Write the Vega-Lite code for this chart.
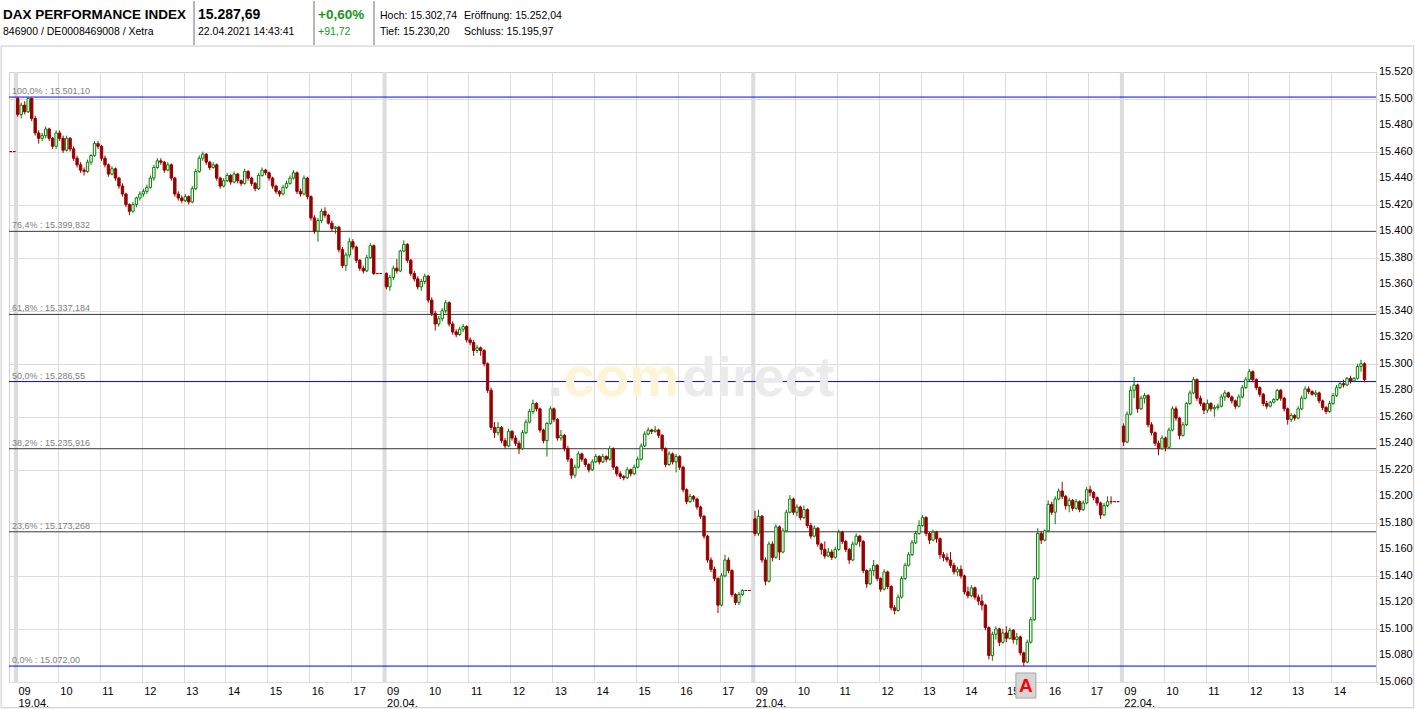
{
"$schema":"https://vega.github.io/schema/vega-lite/v6.json",
"background":"#ffffff",
"padding":{"left":0,"top":0,"right":0,"bottom":0},
"bounds":"flush",
"spacing":71,
"config":{"view":{"stroke":null},"font":"Liberation Sans"},
"datasets":{
"days":[{"m":0},{"m":528},{"m":1056},{"m":1584}],
"ticksy":[{"v":15060,"lab":"15.060"},{"v":15080,"lab":"15.080"},{"v":15100,"lab":"15.100"},{"v":15120,"lab":"15.120"},{"v":15140,"lab":"15.140"},{"v":15160,"lab":"15.160"},{"v":15180,"lab":"15.180"},{"v":15200,"lab":"15.200"},{"v":15220,"lab":"15.220"},{"v":15240,"lab":"15.240"},{"v":15260,"lab":"15.260"},{"v":15280,"lab":"15.280"},{"v":15300,"lab":"15.300"},{"v":15320,"lab":"15.320"},{"v":15340,"lab":"15.340"},{"v":15360,"lab":"15.360"},{"v":15380,"lab":"15.380"},{"v":15400,"lab":"15.400"},{"v":15420,"lab":"15.420"},{"v":15440,"lab":"15.440"},{"v":15460,"lab":"15.460"},{"v":15480,"lab":"15.480"},{"v":15500,"lab":"15.500"},{"v":15520,"lab":"15.520"}],
"fib":[
{"v":15501.1,"txt":"100,0% : 15.501,10","k":"b"},
{"v":15399.832,"txt":"76,4% : 15.399,832","k":"g"},
{"v":15337.184,"txt":"61,8% : 15.337,184","k":"g"},
{"v":15286.55,"txt":"50,0% : 15.286,55","k":"b"},
{"v":15235.916,"txt":"38,2% : 15.235,916","k":"g"},
{"v":15173.268,"txt":"23,6% : 15.173,268","k":"g"},
{"v":15072,"txt":"0,0% : 15.072,00","k":"b"}],
"dax":[
{"m":-10,"o":15460,"h":15460,"l":15460,"c":15460},
{"m":-5,"o":15460,"h":15460,"l":15460,"c":15460},
{"m":0,"o":15500,"h":15501,"l":15486,"c":15488},
{"m":5,"o":15488,"h":15497,"l":15485,"c":15495},
{"m":10,"o":15495,"h":15498,"l":15488,"c":15490},
{"m":15,"o":15490,"h":15501,"l":15489,"c":15500},
{"m":20,"o":15500,"h":15501,"l":15483,"c":15485},
{"m":25,"o":15485,"h":15487,"l":15472,"c":15474},
{"m":30,"o":15474,"h":15476,"l":15466,"c":15470},
{"m":35,"o":15470,"h":15474,"l":15468,"c":15472},
{"m":40,"o":15472,"h":15479,"l":15470,"c":15477},
{"m":45,"o":15477,"h":15478,"l":15468,"c":15470},
{"m":50,"o":15470,"h":15471,"l":15462,"c":15464},
{"m":55,"o":15464,"h":15476,"l":15462,"c":15474},
{"m":60,"o":15474,"h":15476,"l":15468,"c":15470},
{"m":65,"o":15470,"h":15472,"l":15459,"c":15461},
{"m":70,"o":15461,"h":15472,"l":15460,"c":15470},
{"m":75,"o":15470,"h":15471,"l":15460,"c":15462},
{"m":80,"o":15462,"h":15464,"l":15453,"c":15455},
{"m":85,"o":15455,"h":15457,"l":15448,"c":15450},
{"m":90,"o":15450,"h":15452,"l":15444,"c":15446},
{"m":95,"o":15446,"h":15448,"l":15442,"c":15445},
{"m":100,"o":15445,"h":15454,"l":15444,"c":15452},
{"m":105,"o":15452,"h":15458,"l":15450,"c":15457},
{"m":110,"o":15457,"h":15468,"l":15456,"c":15466},
{"m":115,"o":15466,"h":15468,"l":15462,"c":15464},
{"m":120,"o":15464,"h":15465,"l":15453,"c":15455},
{"m":125,"o":15455,"h":15457,"l":15448,"c":15450},
{"m":130,"o":15450,"h":15451,"l":15441,"c":15443},
{"m":135,"o":15443,"h":15449,"l":15442,"c":15447},
{"m":140,"o":15447,"h":15448,"l":15438,"c":15440},
{"m":145,"o":15440,"h":15441,"l":15432,"c":15434},
{"m":150,"o":15434,"h":15436,"l":15426,"c":15428},
{"m":155,"o":15428,"h":15429,"l":15418,"c":15420},
{"m":160,"o":15420,"h":15421,"l":15412,"c":15415},
{"m":165,"o":15415,"h":15422,"l":15414,"c":15420},
{"m":170,"o":15420,"h":15426,"l":15418,"c":15425},
{"m":175,"o":15425,"h":15430,"l":15423,"c":15428},
{"m":180,"o":15428,"h":15432,"l":15426,"c":15430},
{"m":185,"o":15430,"h":15435,"l":15428,"c":15433},
{"m":190,"o":15433,"h":15442,"l":15432,"c":15440},
{"m":195,"o":15440,"h":15450,"l":15438,"c":15448},
{"m":200,"o":15448,"h":15455,"l":15447,"c":15453},
{"m":205,"o":15453,"h":15455,"l":15450,"c":15452},
{"m":210,"o":15452,"h":15453,"l":15444,"c":15446},
{"m":215,"o":15446,"h":15452,"l":15445,"c":15450},
{"m":220,"o":15450,"h":15451,"l":15438,"c":15440},
{"m":225,"o":15440,"h":15441,"l":15426,"c":15428},
{"m":230,"o":15428,"h":15430,"l":15423,"c":15425},
{"m":235,"o":15425,"h":15427,"l":15421,"c":15423},
{"m":240,"o":15423,"h":15428,"l":15422,"c":15426},
{"m":245,"o":15426,"h":15427,"l":15420,"c":15422},
{"m":250,"o":15422,"h":15434,"l":15421,"c":15432},
{"m":255,"o":15432,"h":15447,"l":15431,"c":15445},
{"m":260,"o":15445,"h":15457,"l":15444,"c":15455},
{"m":265,"o":15455,"h":15460,"l":15453,"c":15458},
{"m":270,"o":15458,"h":15459,"l":15450,"c":15452},
{"m":275,"o":15452,"h":15453,"l":15446,"c":15448},
{"m":280,"o":15448,"h":15452,"l":15447,"c":15450},
{"m":285,"o":15450,"h":15451,"l":15438,"c":15440},
{"m":290,"o":15440,"h":15441,"l":15432,"c":15434},
{"m":295,"o":15434,"h":15440,"l":15433,"c":15438},
{"m":300,"o":15438,"h":15444,"l":15437,"c":15442},
{"m":305,"o":15442,"h":15443,"l":15435,"c":15437},
{"m":310,"o":15437,"h":15445,"l":15436,"c":15443},
{"m":315,"o":15443,"h":15444,"l":15436,"c":15438},
{"m":320,"o":15438,"h":15439,"l":15434,"c":15436},
{"m":325,"o":15436,"h":15447,"l":15435,"c":15445},
{"m":330,"o":15445,"h":15446,"l":15438,"c":15440},
{"m":335,"o":15440,"h":15441,"l":15434,"c":15436},
{"m":340,"o":15436,"h":15437,"l":15430,"c":15432},
{"m":345,"o":15432,"h":15444,"l":15431,"c":15442},
{"m":350,"o":15442,"h":15448,"l":15441,"c":15446},
{"m":355,"o":15446,"h":15447,"l":15442,"c":15444},
{"m":360,"o":15444,"h":15445,"l":15438,"c":15440},
{"m":365,"o":15440,"h":15441,"l":15432,"c":15434},
{"m":370,"o":15434,"h":15435,"l":15428,"c":15430},
{"m":375,"o":15430,"h":15431,"l":15426,"c":15428},
{"m":380,"o":15428,"h":15435,"l":15427,"c":15433},
{"m":385,"o":15433,"h":15438,"l":15432,"c":15436},
{"m":390,"o":15436,"h":15442,"l":15435,"c":15440},
{"m":395,"o":15440,"h":15446,"l":15439,"c":15444},
{"m":400,"o":15444,"h":15445,"l":15428,"c":15430},
{"m":405,"o":15430,"h":15432,"l":15426,"c":15428},
{"m":410,"o":15428,"h":15442,"l":15427,"c":15440},
{"m":415,"o":15440,"h":15441,"l":15424,"c":15426},
{"m":420,"o":15426,"h":15427,"l":15408,"c":15410},
{"m":425,"o":15410,"h":15412,"l":15398,"c":15400},
{"m":430,"o":15400,"h":15410,"l":15392,"c":15408},
{"m":435,"o":15408,"h":15417,"l":15406,"c":15415},
{"m":440,"o":15415,"h":15418,"l":15410,"c":15412},
{"m":445,"o":15412,"h":15413,"l":15405,"c":15406},
{"m":450,"o":15406,"h":15408,"l":15400,"c":15402},
{"m":455,"o":15402,"h":15404,"l":15398,"c":15403},
{"m":460,"o":15403,"h":15404,"l":15384,"c":15386},
{"m":465,"o":15386,"h":15388,"l":15372,"c":15374},
{"m":470,"o":15374,"h":15384,"l":15370,"c":15382},
{"m":475,"o":15382,"h":15395,"l":15380,"c":15392},
{"m":480,"o":15392,"h":15394,"l":15386,"c":15388},
{"m":485,"o":15388,"h":15389,"l":15376,"c":15378},
{"m":490,"o":15378,"h":15379,"l":15370,"c":15372},
{"m":495,"o":15372,"h":15374,"l":15368,"c":15370},
{"m":500,"o":15370,"h":15382,"l":15369,"c":15380},
{"m":505,"o":15380,"h":15391,"l":15379,"c":15389},
{"m":510,"o":15389,"h":15390,"l":15367,"c":15368},
{"m":515,"o":15368,"h":15368,"l":15368,"c":15368},
{"m":520,"o":15368,"h":15368,"l":15368,"c":15368},
{"m":528,"o":15368,"h":15369,"l":15356,"c":15358},
{"m":533,"o":15358,"h":15367,"l":15355,"c":15365},
{"m":538,"o":15365,"h":15374,"l":15363,"c":15372},
{"m":543,"o":15372,"h":15379,"l":15368,"c":15370},
{"m":548,"o":15370,"h":15386,"l":15369,"c":15385},
{"m":553,"o":15385,"h":15393,"l":15384,"c":15390},
{"m":558,"o":15390,"h":15391,"l":15376,"c":15378},
{"m":563,"o":15378,"h":15379,"l":15366,"c":15368},
{"m":568,"o":15368,"h":15370,"l":15362,"c":15364},
{"m":573,"o":15364,"h":15366,"l":15356,"c":15358},
{"m":578,"o":15358,"h":15364,"l":15355,"c":15362},
{"m":583,"o":15362,"h":15368,"l":15360,"c":15366},
{"m":588,"o":15366,"h":15367,"l":15346,"c":15348},
{"m":593,"o":15348,"h":15350,"l":15336,"c":15338},
{"m":598,"o":15338,"h":15340,"l":15325,"c":15330},
{"m":603,"o":15330,"h":15336,"l":15328,"c":15334},
{"m":608,"o":15334,"h":15342,"l":15332,"c":15340},
{"m":613,"o":15340,"h":15348,"l":15338,"c":15346},
{"m":618,"o":15346,"h":15347,"l":15328,"c":15330},
{"m":623,"o":15330,"h":15332,"l":15322,"c":15324},
{"m":628,"o":15324,"h":15326,"l":15320,"c":15322},
{"m":633,"o":15322,"h":15328,"l":15321,"c":15326},
{"m":638,"o":15326,"h":15330,"l":15324,"c":15328},
{"m":643,"o":15328,"h":15329,"l":15316,"c":15318},
{"m":648,"o":15318,"h":15320,"l":15314,"c":15316},
{"m":653,"o":15316,"h":15318,"l":15306,"c":15310},
{"m":658,"o":15310,"h":15314,"l":15308,"c":15312},
{"m":663,"o":15312,"h":15313,"l":15306,"c":15310},
{"m":668,"o":15310,"h":15311,"l":15298,"c":15300},
{"m":673,"o":15300,"h":15301,"l":15278,"c":15280},
{"m":678,"o":15280,"h":15282,"l":15250,"c":15252},
{"m":683,"o":15252,"h":15256,"l":15244,"c":15248},
{"m":688,"o":15248,"h":15256,"l":15246,"c":15252},
{"m":693,"o":15252,"h":15253,"l":15240,"c":15242},
{"m":698,"o":15242,"h":15244,"l":15236,"c":15238},
{"m":703,"o":15238,"h":15251,"l":15237,"c":15249},
{"m":708,"o":15249,"h":15250,"l":15242,"c":15244},
{"m":713,"o":15244,"h":15246,"l":15238,"c":15240},
{"m":718,"o":15240,"h":15242,"l":15232,"c":15236},
{"m":723,"o":15236,"h":15250,"l":15235,"c":15248},
{"m":728,"o":15248,"h":15258,"l":15247,"c":15256},
{"m":733,"o":15256,"h":15266,"l":15255,"c":15264},
{"m":738,"o":15264,"h":15273,"l":15262,"c":15270},
{"m":743,"o":15270,"h":15271,"l":15264,"c":15266},
{"m":748,"o":15266,"h":15267,"l":15248,"c":15250},
{"m":753,"o":15250,"h":15251,"l":15240,"c":15242},
{"m":758,"o":15242,"h":15256,"l":15230,"c":15255},
{"m":763,"o":15255,"h":15268,"l":15254,"c":15266},
{"m":768,"o":15266,"h":15267,"l":15256,"c":15258},
{"m":773,"o":15258,"h":15259,"l":15242,"c":15244},
{"m":778,"o":15244,"h":15250,"l":15242,"c":15246},
{"m":783,"o":15246,"h":15247,"l":15234,"c":15236},
{"m":788,"o":15236,"h":15238,"l":15226,"c":15228},
{"m":793,"o":15228,"h":15229,"l":15213,"c":15216},
{"m":798,"o":15216,"h":15224,"l":15214,"c":15222},
{"m":803,"o":15222,"h":15234,"l":15221,"c":15232},
{"m":808,"o":15232,"h":15233,"l":15226,"c":15228},
{"m":813,"o":15228,"h":15229,"l":15222,"c":15224},
{"m":818,"o":15224,"h":15225,"l":15218,"c":15220},
{"m":823,"o":15220,"h":15228,"l":15219,"c":15226},
{"m":828,"o":15226,"h":15232,"l":15225,"c":15230},
{"m":833,"o":15230,"h":15231,"l":15224,"c":15226},
{"m":838,"o":15226,"h":15232,"l":15225,"c":15230},
{"m":843,"o":15230,"h":15231,"l":15226,"c":15228},
{"m":848,"o":15228,"h":15238,"l":15227,"c":15236},
{"m":853,"o":15236,"h":15237,"l":15220,"c":15222},
{"m":858,"o":15222,"h":15223,"l":15215,"c":15217},
{"m":863,"o":15217,"h":15219,"l":15213,"c":15215},
{"m":868,"o":15215,"h":15216,"l":15212,"c":15214},
{"m":873,"o":15214,"h":15222,"l":15213,"c":15220},
{"m":878,"o":15220,"h":15221,"l":15215,"c":15217},
{"m":883,"o":15217,"h":15224,"l":15216,"c":15222},
{"m":888,"o":15222,"h":15230,"l":15221,"c":15228},
{"m":893,"o":15228,"h":15240,"l":15227,"c":15238},
{"m":898,"o":15238,"h":15249,"l":15237,"c":15247},
{"m":903,"o":15247,"h":15252,"l":15246,"c":15250},
{"m":908,"o":15250,"h":15251,"l":15247,"c":15249},
{"m":913,"o":15249,"h":15253,"l":15248,"c":15250},
{"m":918,"o":15250,"h":15251,"l":15244,"c":15246},
{"m":923,"o":15246,"h":15247,"l":15234,"c":15236},
{"m":928,"o":15236,"h":15237,"l":15222,"c":15224},
{"m":933,"o":15224,"h":15234,"l":15223,"c":15232},
{"m":938,"o":15232,"h":15233,"l":15224,"c":15226},
{"m":943,"o":15226,"h":15232,"l":15218,"c":15230},
{"m":948,"o":15230,"h":15231,"l":15220,"c":15222},
{"m":953,"o":15222,"h":15223,"l":15203,"c":15205},
{"m":958,"o":15205,"h":15206,"l":15194,"c":15196},
{"m":963,"o":15196,"h":15202,"l":15195,"c":15200},
{"m":968,"o":15200,"h":15201,"l":15196,"c":15198},
{"m":973,"o":15198,"h":15199,"l":15190,"c":15192},
{"m":978,"o":15192,"h":15193,"l":15183,"c":15185},
{"m":983,"o":15185,"h":15186,"l":15168,"c":15170},
{"m":988,"o":15170,"h":15171,"l":15150,"c":15152},
{"m":993,"o":15152,"h":15154,"l":15143,"c":15145},
{"m":998,"o":15145,"h":15147,"l":15136,"c":15138},
{"m":1003,"o":15138,"h":15139,"l":15112,"c":15118},
{"m":1008,"o":15118,"h":15142,"l":15117,"c":15140},
{"m":1013,"o":15140,"h":15156,"l":15139,"c":15152},
{"m":1018,"o":15152,"h":15154,"l":15142,"c":15144},
{"m":1023,"o":15144,"h":15145,"l":15124,"c":15126},
{"m":1028,"o":15126,"h":15127,"l":15118,"c":15120},
{"m":1033,"o":15120,"h":15128,"l":15118,"c":15126},
{"m":1038,"o":15126,"h":15130,"l":15125,"c":15129},
{"m":1043,"o":15129,"h":15129,"l":15129,"c":15129},
{"m":1048,"o":15129,"h":15129,"l":15129,"c":15129},
{"m":1056,"o":15183,"h":15189,"l":15170,"c":15172},
{"m":1061,"o":15172,"h":15190,"l":15170,"c":15185},
{"m":1066,"o":15185,"h":15186,"l":15150,"c":15152},
{"m":1071,"o":15152,"h":15154,"l":15133,"c":15136},
{"m":1076,"o":15136,"h":15166,"l":15135,"c":15164},
{"m":1081,"o":15164,"h":15166,"l":15151,"c":15154},
{"m":1086,"o":15154,"h":15179,"l":15153,"c":15177},
{"m":1091,"o":15177,"h":15178,"l":15152,"c":15158},
{"m":1096,"o":15158,"h":15176,"l":15157,"c":15174},
{"m":1101,"o":15174,"h":15190,"l":15173,"c":15188},
{"m":1106,"o":15188,"h":15201,"l":15187,"c":15198},
{"m":1111,"o":15198,"h":15199,"l":15186,"c":15188},
{"m":1116,"o":15188,"h":15194,"l":15185,"c":15192},
{"m":1121,"o":15192,"h":15193,"l":15182,"c":15184},
{"m":1126,"o":15184,"h":15193,"l":15183,"c":15190},
{"m":1131,"o":15190,"h":15191,"l":15176,"c":15178},
{"m":1136,"o":15178,"h":15180,"l":15168,"c":15170},
{"m":1141,"o":15170,"h":15178,"l":15169,"c":15176},
{"m":1146,"o":15176,"h":15177,"l":15162,"c":15164},
{"m":1151,"o":15164,"h":15165,"l":15156,"c":15160},
{"m":1156,"o":15160,"h":15166,"l":15153,"c":15155},
{"m":1161,"o":15155,"h":15161,"l":15154,"c":15158},
{"m":1166,"o":15158,"h":15160,"l":15152,"c":15154},
{"m":1171,"o":15154,"h":15162,"l":15153,"c":15160},
{"m":1176,"o":15160,"h":15175,"l":15159,"c":15173},
{"m":1181,"o":15173,"h":15174,"l":15164,"c":15166},
{"m":1186,"o":15166,"h":15167,"l":15158,"c":15160},
{"m":1191,"o":15160,"h":15161,"l":15149,"c":15152},
{"m":1196,"o":15152,"h":15166,"l":15151,"c":15164},
{"m":1201,"o":15164,"h":15172,"l":15163,"c":15170},
{"m":1206,"o":15170,"h":15171,"l":15162,"c":15166},
{"m":1211,"o":15166,"h":15167,"l":15142,"c":15144},
{"m":1216,"o":15144,"h":15145,"l":15131,"c":15134},
{"m":1221,"o":15134,"h":15146,"l":15133,"c":15144},
{"m":1226,"o":15144,"h":15152,"l":15140,"c":15148},
{"m":1231,"o":15148,"h":15149,"l":15136,"c":15138},
{"m":1236,"o":15138,"h":15139,"l":15128,"c":15130},
{"m":1241,"o":15130,"h":15145,"l":15129,"c":15143},
{"m":1246,"o":15143,"h":15144,"l":15130,"c":15132},
{"m":1251,"o":15132,"h":15133,"l":15114,"c":15116},
{"m":1256,"o":15116,"h":15118,"l":15111,"c":15114},
{"m":1261,"o":15114,"h":15126,"l":15113,"c":15124},
{"m":1266,"o":15124,"h":15140,"l":15123,"c":15138},
{"m":1271,"o":15138,"h":15150,"l":15137,"c":15148},
{"m":1276,"o":15148,"h":15158,"l":15147,"c":15156},
{"m":1281,"o":15156,"h":15167,"l":15155,"c":15165},
{"m":1286,"o":15165,"h":15174,"l":15164,"c":15172},
{"m":1291,"o":15172,"h":15182,"l":15171,"c":15178},
{"m":1296,"o":15178,"h":15186,"l":15177,"c":15184},
{"m":1301,"o":15184,"h":15185,"l":15170,"c":15172},
{"m":1306,"o":15172,"h":15173,"l":15164,"c":15167},
{"m":1311,"o":15167,"h":15175,"l":15166,"c":15173},
{"m":1316,"o":15173,"h":15174,"l":15165,"c":15168},
{"m":1321,"o":15168,"h":15169,"l":15153,"c":15156},
{"m":1326,"o":15156,"h":15158,"l":15151,"c":15154},
{"m":1331,"o":15154,"h":15157,"l":15150,"c":15152},
{"m":1336,"o":15152,"h":15158,"l":15146,"c":15148},
{"m":1341,"o":15148,"h":15150,"l":15141,"c":15143},
{"m":1346,"o":15143,"h":15147,"l":15140,"c":15145},
{"m":1351,"o":15145,"h":15148,"l":15138,"c":15140},
{"m":1356,"o":15140,"h":15141,"l":15126,"c":15128},
{"m":1361,"o":15128,"h":15132,"l":15123,"c":15125},
{"m":1366,"o":15125,"h":15133,"l":15124,"c":15131},
{"m":1371,"o":15131,"h":15132,"l":15122,"c":15124},
{"m":1376,"o":15124,"h":15126,"l":15118,"c":15121},
{"m":1381,"o":15121,"h":15126,"l":15114,"c":15118},
{"m":1386,"o":15118,"h":15119,"l":15099,"c":15101},
{"m":1391,"o":15101,"h":15102,"l":15077,"c":15080},
{"m":1396,"o":15080,"h":15098,"l":15076,"c":15096},
{"m":1401,"o":15096,"h":15102,"l":15092,"c":15100},
{"m":1406,"o":15100,"h":15101,"l":15087,"c":15090},
{"m":1411,"o":15090,"h":15100,"l":15089,"c":15097},
{"m":1416,"o":15097,"h":15102,"l":15090,"c":15093},
{"m":1421,"o":15093,"h":15101,"l":15092,"c":15099},
{"m":1426,"o":15099,"h":15100,"l":15089,"c":15092},
{"m":1431,"o":15092,"h":15097,"l":15088,"c":15094},
{"m":1436,"o":15094,"h":15095,"l":15080,"c":15082},
{"m":1441,"o":15082,"h":15083,"l":15072,"c":15075},
{"m":1446,"o":15075,"h":15092,"l":15074,"c":15090},
{"m":1451,"o":15090,"h":15109,"l":15089,"c":15107},
{"m":1456,"o":15107,"h":15140,"l":15106,"c":15138},
{"m":1461,"o":15138,"h":15176,"l":15137,"c":15172},
{"m":1466,"o":15172,"h":15174,"l":15164,"c":15167},
{"m":1471,"o":15167,"h":15175,"l":15166,"c":15174},
{"m":1476,"o":15174,"h":15197,"l":15173,"c":15194},
{"m":1481,"o":15194,"h":15196,"l":15186,"c":15188},
{"m":1486,"o":15188,"h":15200,"l":15179,"c":15198},
{"m":1491,"o":15198,"h":15206,"l":15197,"c":15204},
{"m":1496,"o":15204,"h":15211,"l":15198,"c":15200},
{"m":1501,"o":15200,"h":15201,"l":15190,"c":15193},
{"m":1506,"o":15193,"h":15199,"l":15188,"c":15197},
{"m":1511,"o":15197,"h":15198,"l":15189,"c":15191},
{"m":1516,"o":15191,"h":15198,"l":15190,"c":15196},
{"m":1521,"o":15196,"h":15197,"l":15188,"c":15190},
{"m":1526,"o":15190,"h":15197,"l":15189,"c":15195},
{"m":1531,"o":15195,"h":15207,"l":15194,"c":15205},
{"m":1536,"o":15205,"h":15208,"l":15200,"c":15203},
{"m":1541,"o":15203,"h":15204,"l":15197,"c":15199},
{"m":1546,"o":15199,"h":15200,"l":15193,"c":15195},
{"m":1551,"o":15195,"h":15196,"l":15183,"c":15186},
{"m":1556,"o":15186,"h":15195,"l":15185,"c":15193},
{"m":1561,"o":15193,"h":15200,"l":15192,"c":15196},
{"m":1566,"o":15196,"h":15200,"l":15194,"c":15196},
{"m":1571,"o":15196,"h":15196,"l":15196,"c":15196},
{"m":1576,"o":15196,"h":15196,"l":15196,"c":15196},
{"m":1584,"o":15253,"h":15255,"l":15238,"c":15241},
{"m":1589,"o":15241,"h":15264,"l":15240,"c":15262},
{"m":1594,"o":15262,"h":15283,"l":15261,"c":15280},
{"m":1599,"o":15280,"h":15290,"l":15274,"c":15284},
{"m":1604,"o":15284,"h":15285,"l":15263,"c":15266},
{"m":1609,"o":15266,"h":15276,"l":15265,"c":15274},
{"m":1614,"o":15274,"h":15278,"l":15270,"c":15276},
{"m":1619,"o":15276,"h":15277,"l":15252,"c":15254},
{"m":1624,"o":15254,"h":15256,"l":15246,"c":15248},
{"m":1629,"o":15248,"h":15249,"l":15238,"c":15240},
{"m":1634,"o":15240,"h":15242,"l":15231,"c":15236},
{"m":1639,"o":15236,"h":15246,"l":15235,"c":15244},
{"m":1644,"o":15244,"h":15245,"l":15234,"c":15237},
{"m":1649,"o":15237,"h":15252,"l":15236,"c":15250},
{"m":1654,"o":15250,"h":15268,"l":15249,"c":15266},
{"m":1659,"o":15266,"h":15268,"l":15257,"c":15259},
{"m":1664,"o":15259,"h":15260,"l":15243,"c":15246},
{"m":1669,"o":15246,"h":15256,"l":15245,"c":15254},
{"m":1674,"o":15254,"h":15271,"l":15253,"c":15270},
{"m":1679,"o":15270,"h":15280,"l":15269,"c":15278},
{"m":1684,"o":15278,"h":15290,"l":15277,"c":15288},
{"m":1689,"o":15288,"h":15289,"l":15272,"c":15274},
{"m":1694,"o":15274,"h":15276,"l":15268,"c":15270},
{"m":1699,"o":15270,"h":15271,"l":15262,"c":15265},
{"m":1704,"o":15265,"h":15273,"l":15263,"c":15270},
{"m":1709,"o":15270,"h":15271,"l":15264,"c":15266},
{"m":1714,"o":15266,"h":15269,"l":15260,"c":15267},
{"m":1719,"o":15267,"h":15270,"l":15265,"c":15268},
{"m":1724,"o":15268,"h":15277,"l":15267,"c":15275},
{"m":1729,"o":15275,"h":15280,"l":15272,"c":15278},
{"m":1734,"o":15278,"h":15279,"l":15274,"c":15275},
{"m":1739,"o":15275,"h":15276,"l":15270,"c":15272},
{"m":1744,"o":15272,"h":15273,"l":15266,"c":15268},
{"m":1749,"o":15268,"h":15277,"l":15267,"c":15275},
{"m":1754,"o":15275,"h":15284,"l":15274,"c":15282},
{"m":1759,"o":15282,"h":15290,"l":15281,"c":15288},
{"m":1764,"o":15288,"h":15296,"l":15287,"c":15294},
{"m":1769,"o":15294,"h":15295,"l":15286,"c":15288},
{"m":1774,"o":15288,"h":15289,"l":15280,"c":15282},
{"m":1779,"o":15282,"h":15283,"l":15275,"c":15277},
{"m":1784,"o":15277,"h":15278,"l":15268,"c":15270},
{"m":1789,"o":15270,"h":15272,"l":15266,"c":15268},
{"m":1794,"o":15268,"h":15272,"l":15267,"c":15271},
{"m":1799,"o":15271,"h":15274,"l":15270,"c":15273},
{"m":1804,"o":15273,"h":15281,"l":15272,"c":15280},
{"m":1809,"o":15280,"h":15281,"l":15272,"c":15274},
{"m":1814,"o":15274,"h":15275,"l":15264,"c":15266},
{"m":1819,"o":15266,"h":15267,"l":15254,"c":15258},
{"m":1824,"o":15258,"h":15263,"l":15256,"c":15261},
{"m":1829,"o":15261,"h":15262,"l":15257,"c":15259},
{"m":1834,"o":15259,"h":15268,"l":15258,"c":15266},
{"m":1839,"o":15266,"h":15276,"l":15265,"c":15274},
{"m":1844,"o":15274,"h":15283,"l":15273,"c":15281},
{"m":1849,"o":15281,"h":15283,"l":15277,"c":15279},
{"m":1854,"o":15279,"h":15280,"l":15276,"c":15277},
{"m":1859,"o":15277,"h":15280,"l":15275,"c":15278},
{"m":1864,"o":15278,"h":15279,"l":15270,"c":15272},
{"m":1869,"o":15272,"h":15273,"l":15265,"c":15267},
{"m":1874,"o":15267,"h":15268,"l":15262,"c":15264},
{"m":1879,"o":15264,"h":15272,"l":15263,"c":15270},
{"m":1884,"o":15270,"h":15278,"l":15269,"c":15276},
{"m":1889,"o":15276,"h":15284,"l":15275,"c":15282},
{"m":1894,"o":15282,"h":15287,"l":15281,"c":15285},
{"m":1899,"o":15285,"h":15288,"l":15282,"c":15284},
{"m":1904,"o":15284,"h":15290,"l":15283,"c":15289},
{"m":1909,"o":15289,"h":15291,"l":15285,"c":15287},
{"m":1914,"o":15287,"h":15290,"l":15286,"c":15289},
{"m":1919,"o":15289,"h":15300,"l":15288,"c":15298},
{"m":1924,"o":15298,"h":15303,"l":15294,"c":15300},
{"m":1929,"o":15300,"h":15301,"l":15286,"c":15288}
]},
"vconcat":[
{"hconcat":[
{"width":185,"height":44,
 "data":{"values":[{"line":"a","txt":"DAX PERFORMANCE INDEX"},{"line":"b","txt":"846900 / DE0008469008 / Xetra"}]},
 "layer":[
  {"mark":{"type":"rule","color":"#a0a0a0"},"encoding":{"x":{"datum":1,"type":"quantitative","scale":{"domain":[0,1]},"axis":null}}},
  {"transform":[{"filter":"datum.line == 'a'"}],"mark":{"type":"text","align":"left","baseline":"middle","dx":-6,"fontSize":13.5,"fontWeight":"bold","font":"Liberation Sans","color":"#000000"},
   "encoding":{"x":{"datum":0,"type":"quantitative"},"y":{"field":"line","type":"nominal","axis":null,"scale":{"domain":["a","b"],"range":[14,31],"padding":0}},"text":{"field":"txt"}}},
  {"transform":[{"filter":"datum.line == 'b'"}],"mark":{"type":"text","align":"left","baseline":"middle","dx":-6,"fontSize":10.5,"font":"Liberation Sans","color":"#000000"},
   "encoding":{"x":{"datum":0,"type":"quantitative"},"y":{"field":"line","type":"nominal"},"text":{"field":"txt"}}}
 ]},
{"width":120,"height":44,
 "data":{"values":[{"line":"a","txt":"15.287,69"},{"line":"b","txt":"22.04.2021 14:43:41"}]},
 "layer":[
  {"mark":{"type":"rule","color":"#a0a0a0"},"encoding":{"x":{"datum":1,"type":"quantitative","scale":{"domain":[0,1]},"axis":null}}},
  {"transform":[{"filter":"datum.line == 'a'"}],"mark":{"type":"text","align":"left","baseline":"middle","dx":4,"fontSize":14,"fontWeight":"bold","font":"Liberation Sans","color":"#000000"},
   "encoding":{"x":{"datum":0,"type":"quantitative"},"y":{"field":"line","type":"nominal","axis":null,"scale":{"domain":["a","b"],"range":[14,31],"padding":0}},"text":{"field":"txt"}}},
  {"transform":[{"filter":"datum.line == 'b'"}],"mark":{"type":"text","align":"left","baseline":"middle","dx":4,"fontSize":10.5,"font":"Liberation Sans","color":"#000000"},
   "encoding":{"x":{"datum":0,"type":"quantitative"},"y":{"field":"line","type":"nominal"},"text":{"field":"txt"}}}
 ]},
{"width":60,"height":44,
 "data":{"values":[{"line":"a","txt":"+0,60%"},{"line":"b","txt":"+91,72"}]},
 "layer":[
  {"mark":{"type":"rule","color":"#a0a0a0"},"encoding":{"x":{"datum":1,"type":"quantitative","scale":{"domain":[0,1]},"axis":null}}},
  {"transform":[{"filter":"datum.line == 'a'"}],"mark":{"type":"text","align":"left","baseline":"middle","dx":4,"fontSize":13.5,"fontWeight":"bold","font":"Liberation Sans","color":"#1a961a"},
   "encoding":{"x":{"datum":0,"type":"quantitative"},"y":{"field":"line","type":"nominal","axis":null,"scale":{"domain":["a","b"],"range":[14,31],"padding":0}},"text":{"field":"txt"}}},
  {"transform":[{"filter":"datum.line == 'b'"}],"mark":{"type":"text","align":"left","baseline":"middle","dx":4,"fontSize":10.5,"font":"Liberation Sans","color":"#1a961a"},
   "encoding":{"x":{"datum":0,"type":"quantitative"},"y":{"field":"line","type":"nominal"},"text":{"field":"txt"}}}
 ]},
{"width":300,"height":44,
 "data":{"values":[{"line":"a","col":"k1","txt":"Hoch: 15.302,74"},{"line":"a","col":"k2","txt":"Eröffnung: 15.252,04"},{"line":"b","col":"k1","txt":"Tief: 15.230,20"},{"line":"b","col":"k2","txt":"Schluss: 15.195,97"}]},
 "mark":{"type":"text","align":"left","baseline":"middle","fontSize":10.5,"font":"Liberation Sans","color":"#000000"},
 "encoding":{"x":{"field":"col","type":"nominal","axis":null,"scale":{"domain":["k1","k2"],"range":[6,90],"padding":0}},"y":{"field":"line","type":"nominal","axis":null,"scale":{"domain":["a","b"],"range":[15,31],"padding":0}},"text":{"field":"txt"}}}
],"spacing":0,"bounds":"flush"},
{"width":1367,"height":610,
 "view":{"stroke":"#d0d0d0"},
 "layer":[
  {"data":{"name":"days"},"mark":{"type":"rule","strokeWidth":4,"color":"#dcdcdc"},
   "encoding":{"x":{"field":"m","type":"quantitative","scale":{"domain":[-10,1948],"nice":false,"zero":false,"padding":0},
     "axis":{"values":[0,60,120,180,240,300,360,420,480,528,588,648,708,768,828,888,948,1008,1056,1116,1176,1236,1296,1356,1416,1476,1536,1584,1644,1704,1764,1824,1884],
       "title":null,"grid":true,"gridColor":"#dcdcdc","gridWidth":1,"domain":false,"ticks":false,"labelAlign":"left","labelBaseline":"top","labelPadding":3,"labelOffset":2,"labelFont":"Liberation Sans","labelFontSize":11,"labelColor":"#000000","labelLineHeight":12,"labelOverlap":false,"labelFlush":false,"labelBound":false,
       "labelExpr":"datum.value % 528 == 0 ? ['09', ['19.04.','20.04.','21.04.','22.04.'][floor(datum.value / 528)]] : '' + (9 + floor((datum.value % 528) / 60))"}}}},
  {"data":{"name":"fib"},"mark":{"type":"rule","strokeWidth":1},
   "encoding":{"y":{"field":"v","type":"quantitative","scale":{"domain":[15060,15520],"nice":false,"zero":false,"padding":0},
     "axis":{"orient":"right","values":[15060,15080,15100,15120,15140,15160,15180,15200,15220,15240,15260,15280,15300,15320,15340,15360,15380,15400,15420,15440,15460,15480,15500,15520],
       "title":null,"grid":true,"gridColor":"#dcdcdc","domain":false,"ticks":true,"tickSize":3,"tickColor":"#dcdcdc","labels":false}},
     "color":{"field":"k","type":"nominal","scale":{"domain":["b","g"],"range":["#0000ff","#383838"]},"legend":null}}},
  {"data":{"name":"ticksy"},"mark":{"type":"text","align":"left","baseline":"middle","dx":3,"fontSize":11,"font":"Liberation Sans","color":"#000000"},
   "encoding":{"x":{"datum":1948,"type":"quantitative"},"y":{"field":"v","type":"quantitative"},"text":{"field":"lab"}}},
  {"data":{"values":[{}]},"mark":{"type":"rect","fill":null,"fillOpacity":0,"stroke":"#c8c8c8","strokeWidth":1},
   "encoding":{"x":{"datum":-21.2,"type":"quantitative"},"x2":{"datum":2002},"y":{"datum":15539.6,"type":"quantitative"},"y2":{"datum":15040.6}}},
  {"data":{"name":"fib"},"mark":{"type":"text","align":"left","baseline":"bottom","dx":3,"dy":-1,"fontSize":9,"font":"Liberation Sans","color":"#808080"},
   "encoding":{"x":{"datum":-10,"type":"quantitative"},"y":{"field":"v","type":"quantitative"},"text":{"field":"txt"}}},
  {"data":{"values":[{}]},"mark":{"type":"text","text":".","align":"right","baseline":"alphabetic","fontSize":56,"fontWeight":"bold","font":"Liberation Sans","color":"#e6e6e6"},
   "encoding":{"x":{"datum":783.5,"type":"quantitative"},"y":{"datum":15275.7,"type":"quantitative"}}},
  {"data":{"values":[{}]},"mark":{"type":"text","text":"com","align":"right","baseline":"alphabetic","fontSize":56,"fontWeight":"bold","font":"Liberation Sans","color":"#fdf4d6"},
   "encoding":{"x":{"datum":949.6,"type":"quantitative"},"y":{"datum":15275.7,"type":"quantitative"}}},
  {"data":{"values":[{}]},"mark":{"type":"text","text":"direct","align":"left","baseline":"alphabetic","fontSize":56,"fontWeight":"bold","font":"Liberation Sans","color":"#ebebeb"},
   "encoding":{"x":{"datum":953.9,"type":"quantitative"},"y":{"datum":15275.7,"type":"quantitative"}}},
  {"data":{"name":"dax"},"layer":[
    {"mark":{"type":"rule","xOffset":1.75,"strokeWidth":1},
     "encoding":{"x":{"field":"m","type":"quantitative"},"y":{"field":"l","type":"quantitative"},"y2":{"field":"h"},
       "color":{"condition":{"test":"datum.c > datum.o","value":"#008000"},"value":"#990000"}}},
    {"mark":{"type":"bar","width":2.4,"xOffset":1.75,"strokeWidth":1},
     "encoding":{"x":{"field":"m","type":"quantitative"},"y":{"field":"o","type":"quantitative"},"y2":{"field":"c"},
       "fill":{"condition":{"test":"datum.c > datum.o","value":"#ffffff"},"value":"#990000"},
       "stroke":{"condition":{"test":"datum.c > datum.o","value":"#008000"},"value":"#990000"}}}
  ]},
  {"data":{"values":[{}]},"mark":{"type":"rect","fill":"#d6d6d6","stroke":"#a6a6a6","strokeWidth":1},
   "encoding":{"x":{"datum":1432.2,"type":"quantitative"},"x2":{"datum":1460.9},"y":{"datum":15066.8,"type":"quantitative"},"y2":{"datum":15047.9}}},
  {"data":{"values":[{}]},"mark":{"type":"text","text":"A","align":"center","baseline":"middle","fontSize":19,"fontWeight":"bold","font":"Liberation Sans","color":"#ff0000"},
   "encoding":{"x":{"datum":1446.5,"type":"quantitative"},"y":{"datum":15057,"type":"quantitative"}}}
 ]}
]
}
